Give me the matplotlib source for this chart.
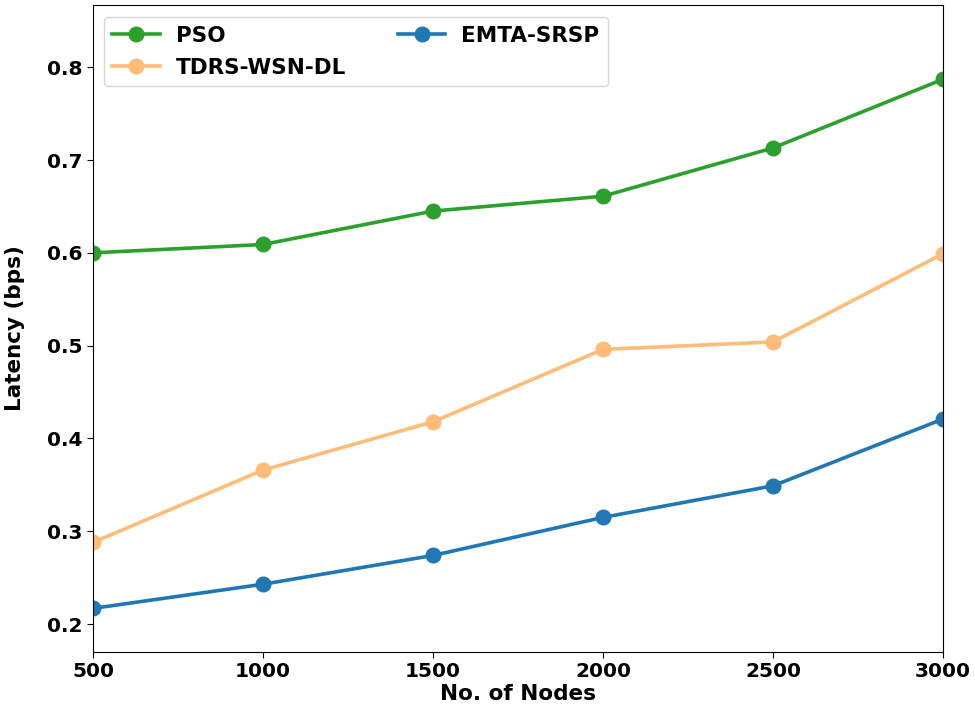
import matplotlib
matplotlib.use("Agg")
import matplotlib.pyplot as plt

nodes = [500, 1000, 1500, 2000, 2500, 3000]
pso = [0.600, 0.609, 0.645, 0.661, 0.713, 0.787]
tdrs = [0.288, 0.366, 0.418, 0.496, 0.504, 0.599]
emta = [0.217, 0.243, 0.274, 0.315, 0.349, 0.421]

plt.rcParams['font.family'] = ['DejaVu Sans']
plt.rcParams['font.weight'] = 'bold'

fig = plt.figure(figsize=(9.75, 7.18), dpi=100)
ax = fig.add_axes([93/975, 1-652/718, 850/975, 647/718])

ax.plot(nodes, pso, '-o', color='#2ca02c', lw=2.6, ms=10.5, label='PSO')
ax.plot(nodes, tdrs, '-o', color='#ffbb78', lw=2.6, ms=10.5, label='TDRS-WSN-DL')
ax.plot(nodes, emta, '-o', color='#1f77b4', lw=2.6, ms=10.5, label='EMTA-SRSP')

ax.set_xlim(500, 3000)
ax.set_ylim(0.17, 0.867)
ax.set_xticks(nodes)
ax.set_yticks([0.2, 0.3, 0.4, 0.5, 0.6, 0.7, 0.8])
ax.tick_params(labelsize=14.5, length=4)
for lab in ax.get_xticklabels() + ax.get_yticklabels():
    lab.set_fontweight('bold')
ax.set_xlabel('No. of Nodes', fontsize=15.5, fontweight='bold', labelpad=2)
ax.set_ylabel('Latency (bps)', fontsize=15.5, fontweight='bold', labelpad=16)
leg = ax.legend(loc='upper left', ncol=2, prop={'weight': 'bold', 'size': 15.5},
                columnspacing=2.4, handlelength=2.2, handletextpad=0.75,
                labelspacing=0.55, bbox_to_anchor=(0.0, 0.998))

fig.savefig('out.png', dpi=100)
